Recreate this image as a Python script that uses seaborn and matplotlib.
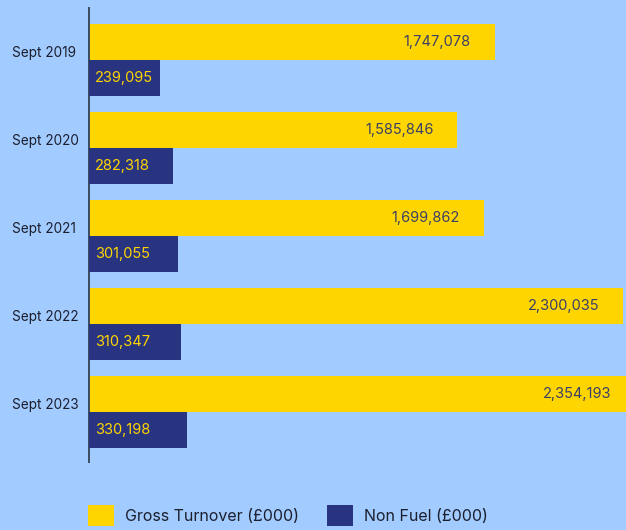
import matplotlib
matplotlib.use("Agg")
import matplotlib.pyplot as plt
from matplotlib.patches import Patch
from matplotlib.transforms import ScaledTranslation
import seaborn as sns
import pandas as pd

years = ["Sept 2019", "Sept 2020", "Sept 2021", "Sept 2022", "Sept 2023"]
gross_turnover = [1747078, 1585846, 1699862, 2300035, 2354193]
non_fuel = [239095, 282318, 301055, 310347, 330198]
series_names = ["Gross Turnover (£000)", "Non Fuel (£000)"]

BG = "#a2cbff"
YELLOW = "#ffd500"
NAVY = "#283480"
TEXT = "#1c1f2e"
LABEL_DARK = "#3a3f66"
palette = {series_names[0]: YELLOW, series_names[1]: NAVY}

sns.set_theme(style="white")
plt.rcParams["font.family"] = ["Inter", "DejaVu Sans"]

gross_df = pd.DataFrame({"year": years, "value": gross_turnover, "series": series_names[0]})
nonfuel_df = pd.DataFrame({"year": years, "value": non_fuel, "series": series_names[1]})

fig = plt.figure(figsize=(6.26, 5.30), dpi=100, facecolor=BG)
ax = fig.add_axes([89 / 626, 68 / 530, 537 / 626, 454 / 530])
ax.set_facecolor(BG)
# non-fuel bars get their own x scale on a twin axis
ax2 = ax.twiny()

bar_kw = dict(x="value", y="year", hue="series", hue_order=series_names,
              palette=palette, orient="h", width=0.82, saturation=1,
              legend=False, linewidth=0, order=years, dodge=True)
sns.barplot(data=gross_df, ax=ax, **bar_kw)
sns.barplot(data=nonfuel_df, ax=ax2, **bar_kw)

ax.set_xlim(0, 2312000)
ax2.set_xlim(0, 1812000)
ax.set_ylim(4.57, -0.59)

for a in (ax, ax2):
    a.set_xlabel("")
    a.set_ylabel("")
    a.set_xticks([])
    for s in ["top", "right", "bottom", "left"]:
        a.spines[s].set_visible(False)
ax.spines["left"].set_visible(True)
ax.spines["left"].set_color("#3b4a5e")
ax.spines["left"].set_linewidth(1.4)
ax.spines["left"].set_zorder(5)

# year labels: left aligned near the figure edge, nudged toward the top bar
ax.tick_params(axis="y", length=0, pad=55.4, labelsize=9.8, labelcolor=TEXT)
for lab in ax.get_yticklabels():
    lab.set_horizontalalignment("left")
    lab.set_transform(lab.get_transform() + ScaledTranslation(0, 6 / 72, fig.dpi_scale_trans))

# value labels
gross_bars = [p for p in ax.patches if p.get_width() > 0]
nonfuel_bars = [p for p in ax2.patches if p.get_width() > 0]
gross_bars.sort(key=lambda p: p.get_y())
nonfuel_bars.sort(key=lambda p: p.get_y())

for bar, v in zip(gross_bars, gross_turnover):
    ax.annotate(f"{v:,}", xy=(v, bar.get_y() + bar.get_height() / 2),
                xytext=(-24, 0), textcoords="offset pixels",
                ha="right", va="center", fontsize=10.5, color=LABEL_DARK,
                annotation_clip=False)
for bar, v in zip(nonfuel_bars, non_fuel):
    ax2.annotate(f"{v:,}", xy=(0, bar.get_y() + bar.get_height() / 2),
                 xytext=(6, 0), textcoords="offset pixels",
                 ha="left", va="center", fontsize=10.5, color=YELLOW,
                 zorder=6)

handles = [Patch(facecolor=YELLOW, edgecolor="none"), Patch(facecolor=NAVY, edgecolor="none")]
fig.legend(handles, series_names, loc="lower left",
           bbox_to_anchor=(88 / 626, 4 / 530), ncol=2, frameon=False,
           fontsize=11.5, handlelength=1.63, handleheight=1.63,
           handletextpad=0.69, columnspacing=1.75, borderpad=0,
           borderaxespad=0, labelcolor=TEXT)

fig.savefig("out.png", dpi=100, facecolor=BG)
